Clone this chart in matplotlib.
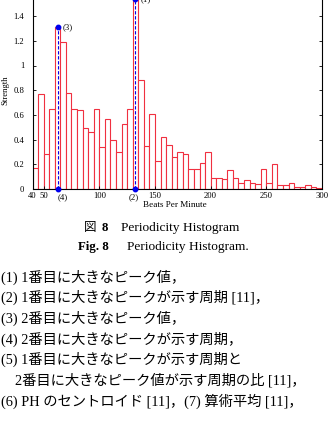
import matplotlib
matplotlib.use('Agg')
import matplotlib.pyplot as plt
from matplotlib.ticker import FuncFormatter

W, H = 329, 429

# histogram data (5 bpm bins starting at 40)
bin_left = list(range(40, 300, 5))
strength = [0.17, 0.77, 0.28, 0.65, 1.31, 1.19, 0.78, 0.65, 0.64, 0.49,
            0.46, 0.65, 0.34, 0.57, 0.40, 0.30, 0.53, 0.65, 1.54, 0.88,
            0.35, 0.61, 0.23, 0.42, 0.36, 0.26, 0.30, 0.28, 0.16, 0.16,
            0.21, 0.30, 0.09, 0.09, 0.08, 0.15, 0.09, 0.05, 0.07, 0.045,
            0.04, 0.165, 0.05, 0.20, 0.03, 0.03, 0.05, 0.02, 0.02, 0.03,
            0.015, 0.01]

peak_bpm = [132.5, 62.5]
peak_val = [1.54, 1.31]
peak_top_labels = ['(1)', '(3)']
peak_bottom_labels = ['(2)', '(4)']
peak_bottom_shift = [-1.5, 5]

x_ticks = [40, 50, 100, 150, 200, 250, 300]
y_ticks = [0, 0.2, 0.4, 0.6, 0.8, 1.0, 1.2, 1.4]

body_lines = [
    '(1) 1番目に大きなピーク値，',
    '(2) 1番目に大きなピークが示す周期 [11]，',
    '(3) 2番目に大きなピーク値，',
    '(4) 2番目に大きなピークが示す周期，',
    '(5) 1番目に大きなピークが示す周期と',
    '2番目に大きなピーク値が示す周期の比 [11]，',
    '(6) PH のセントロイド [11]，(7) 算術平均 [11]，',
]
body_indent = [0, 0, 0, 0, 0, 14, 0]

serif = ['Liberation Serif', 'DejaVu Serif']
mixed = ['Liberation Serif', 'Noto Sans CJK JP']


def fx(px):
    return px / W


def fy(py):
    return 1 - py / H


fig = plt.figure(figsize=(W / 100, H / 100), dpi=100)

# axes: x 40..300 -> 32.5..322 px, y 0 -> 189 px, 1.0 = 123.5 px
ax = fig.add_axes([fx(32.5), fy(189), (322 - 32.5) / W, 1.6 * 123.5 / H])
ax.bar(bin_left, strength, width=5, align='edge', facecolor='white',
       edgecolor='#f03040', linewidth=0.8)

for x, v, t, b, s in zip(peak_bpm, peak_val, peak_top_labels,
                         peak_bottom_labels, peak_bottom_shift):
    ax.plot([x, x], [0, v], color='#0000ee', lw=0.8, dashes=(3, 1.5),
            marker='o', ms=3.2, clip_on=False, zorder=5)
    ax.annotate(t, (x, v), xytext=(5, 0), textcoords='offset pixels',
                ha='left', va='center', fontsize=6.3, family=serif)
    ax.annotate(b, (x, 0), xytext=(s, -8.5), textcoords='offset pixels',
                ha='center', va='center', fontsize=6.3, family=serif,
                annotation_clip=False)

ax.set_xlim(40, 300)
ax.set_ylim(0, 1.6)
ax.set_xticks(x_ticks)
ax.set_yticks(y_ticks)
ax.yaxis.set_major_formatter(FuncFormatter(lambda v, p: '%g' % v))
ax.tick_params(direction='in', length=2.5, width=0.6, right=True, top=True,
               labelsize=6.2)
ax.tick_params(axis='y', pad=6)
ax.tick_params(axis='x', pad=2.5)
for lab in ax.get_xticklabels() + ax.get_yticklabels():
    lab.set_family(serif)
for sp in ax.spines.values():
    sp.set_linewidth(0.8)

fig.text(fx(175), fy(205.5), 'Beats Per Minute', ha='center', va='center',
         fontsize=6.6, family=serif)
fig.text(fx(5.5), fy(90), 'Strength', ha='center', va='center',
         rotation=90, fontsize=6.3, family=serif)

# captions
fig.text(fx(84), fy(228), '図', ha='left', va='center', fontsize=9,
         family=['Noto Sans CJK JP'])
fig.text(fx(102), fy(228), '8', ha='left', va='center', fontsize=9.3,
         family=serif, weight='bold')
fig.text(fx(121), fy(228), 'Periodicity Histogram', ha='left',
         va='center', fontsize=9.6, family=serif)
fig.text(fx(78), fy(247), 'Fig. 8', ha='left', va='center', fontsize=9.3,
         family=serif, weight='bold')
fig.text(fx(127), fy(247), 'Periodicity Histogram.', ha='left',
         va='center', fontsize=9.6, family=serif)

for i, (line, ind) in enumerate(zip(body_lines, body_indent)):
    fig.text(fx(1 + ind), fy(277 + 20.7 * i), line, ha='left', va='center',
             fontsize=10.3, family=mixed)

fig.savefig('out.png', dpi=100)
